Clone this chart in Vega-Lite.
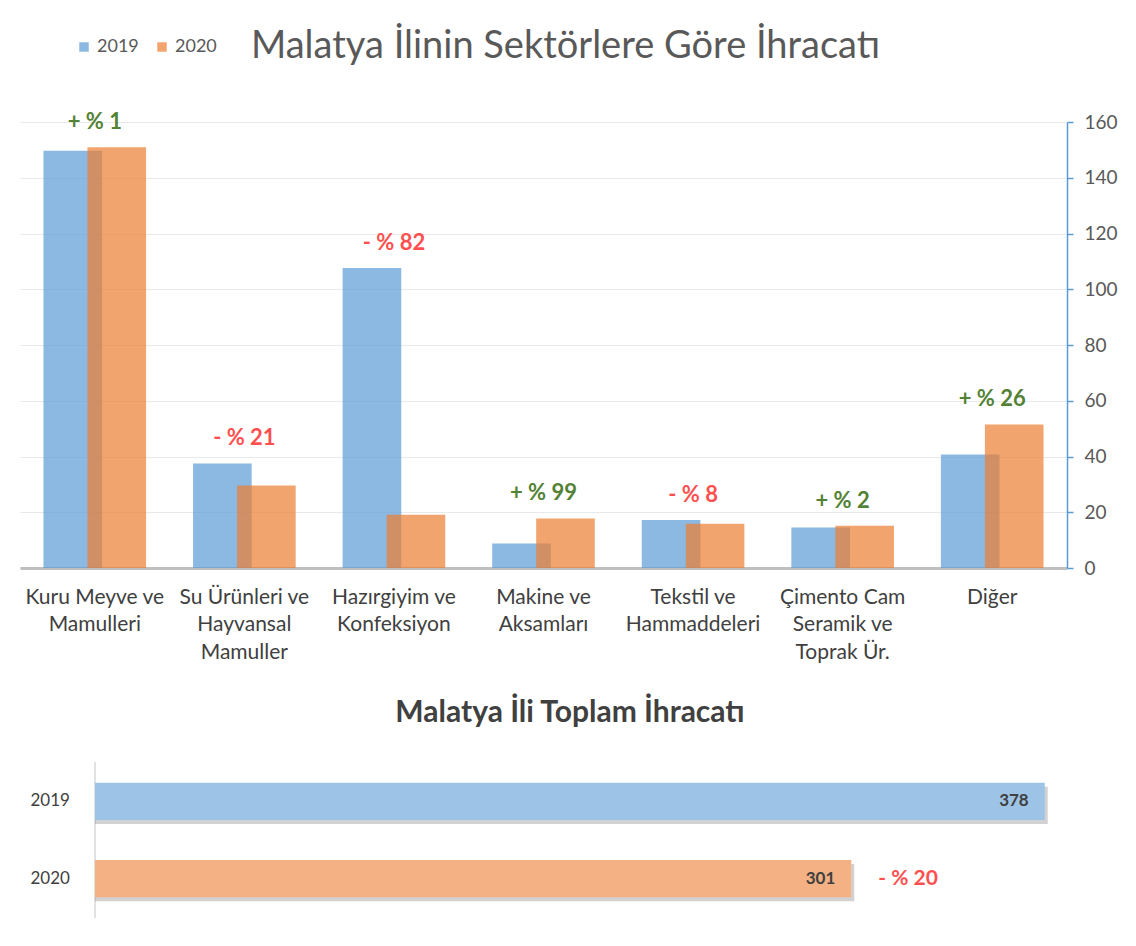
{
  "$schema": "https://vega.github.io/schema/vega-lite/v6.json",
  "background": "white",
  "padding": {"left": 20, "top": 38, "right": 0, "bottom": 0},
  "config": {
    "font": "Lato",
    "view": {"stroke": null}
  },
  "spacing": 35,
  "resolve": {"scale": {"color": "independent"}},
  "vconcat": [
    {
      "width": 1047,
      "height": 446,
      "data": {
        "values": [
          {"sector": "Kuru Meyve ve Mamulleri", "year": "2019", "value": 149.7, "change": "+ % 1"},
          {"sector": "Su Ürünleri ve Hayvansal Mamuller", "year": "2019", "value": 37.5, "change": "- % 21"},
          {"sector": "Hazırgiyim ve Konfeksiyon", "year": "2019", "value": 107.6, "change": "- % 82"},
          {"sector": "Makine ve Aksamları", "year": "2019", "value": 8.8, "change": "+ % 99"},
          {"sector": "Tekstil ve Hammaddeleri", "year": "2019", "value": 17.2, "change": "- % 8"},
          {"sector": "Çimento Cam Seramik ve Toprak Ür.", "year": "2019", "value": 14.5, "change": "+ % 2"},
          {"sector": "Diğer", "year": "2019", "value": 40.7, "change": "+ % 26"},
          {"sector": "Kuru Meyve ve Mamulleri", "year": "2020", "value": 150.9, "change": "+ % 1"},
          {"sector": "Su Ürünleri ve Hayvansal Mamuller", "year": "2020", "value": 29.6, "change": "- % 21"},
          {"sector": "Hazırgiyim ve Konfeksiyon", "year": "2020", "value": 19.1, "change": "- % 82"},
          {"sector": "Makine ve Aksamları", "year": "2020", "value": 17.8, "change": "+ % 99"},
          {"sector": "Tekstil ve Hammaddeleri", "year": "2020", "value": 15.9, "change": "- % 8"},
          {"sector": "Çimento Cam Seramik ve Toprak Ür.", "year": "2020", "value": 15.2, "change": "+ % 2"},
          {"sector": "Diğer", "year": "2020", "value": 51.5, "change": "+ % 26"}
        ]
      },
      "encoding": {
        "x": {
          "field": "sector",
          "type": "nominal",
          "sort": null,
          "scale": {"paddingInner": 0, "paddingOuter": 0},
          "axis": {
            "title": null,
            "labelAngle": 0,
            "ticks": false,
            "domainColor": "#BFBFBF",
            "domainWidth": 3,
            "labelPadding": 18,
            "labelFontSize": 21,
            "labelColor": "#404040",
            "labelLineHeight": 27.5,
            "labelLimit": 300,
            "labelBaseline": "top",
            "labelExpr": "datum.value == 'Kuru Meyve ve Mamulleri' ? ['Kuru Meyve ve', 'Mamulleri'] : datum.value == 'Su Ürünleri ve Hayvansal Mamuller' ? ['Su Ürünleri ve', 'Hayvansal', 'Mamuller'] : datum.value == 'Hazırgiyim ve Konfeksiyon' ? ['Hazırgiyim ve', 'Konfeksiyon'] : datum.value == 'Makine ve Aksamları' ? ['Makine ve', 'Aksamları'] : datum.value == 'Tekstil ve Hammaddeleri' ? ['Tekstil ve', 'Hammaddeleri'] : datum.value == 'Çimento Cam Seramik ve Toprak Ür.' ? ['Çimento Cam', 'Seramik ve', 'Toprak Ür.'] : datum.label"
          }
        }
      },
      "layer": [
        {
          "transform": [{"filter": "datum.year == '2019'"}],
          "mark": {"type": "bar", "width": {"band": 0.392}, "xOffset": -22, "opacity": 0.7},
          "encoding": {
            "y": {
              "field": "value",
              "type": "quantitative",
              "scale": {"domain": [0, 160], "nice": false},
              "axis": {
                "orient": "right",
                "title": null,
                "values": [0, 20, 40, 60, 80, 100, 120, 140, 160],
                "domainColor": "#5B9BD5",
                "domainWidth": 1.5,
                "tickColor": "#5B9BD5",
                "tickWidth": 1.5,
                "tickSize": 6,
                "labelPadding": 11,
                "labelFontSize": 19,
                "labelColor": "#595959",
                "gridColor": "#E9E9E9",
                "grid": true
              }
            },
            "color": {
              "field": "year",
              "type": "nominal",
              "scale": {"domain": ["2019", "2020"], "range": ["#5B9BD5", "#ED7D31"]},
              "legend": {
                "orient": "none",
                "legendX": 55,
                "legendY": -84,
                "direction": "horizontal",
                "title": "Malatya İlinin Sektörlere Göre İhracatı",
                "titleOrient": "right",
                "titleFontSize": 38,
                "titleFontWeight": "normal",
                "titleColor": "#595959",
                "titleLimit": 900,
                "titlePadding": 34,
                "labelFontSize": 18,
                "labelColor": "#595959",
                "symbolType": "square",
                "symbolSize": 90,
                "symbolOpacity": 0.7,
                "symbolStrokeWidth": 0,
                "columnPadding": 14,
                "labelOffset": 4
              }
            }
          }
        },
        {
          "transform": [{"filter": "datum.year == '2020'"}],
          "mark": {"type": "bar", "width": {"band": 0.392}, "xOffset": 22, "opacity": 0.7},
          "encoding": {
            "y": {"field": "value", "type": "quantitative"},
            "color": {"field": "year", "type": "nominal"}
          }
        },
        {
          "transform": [
            {"aggregate": [{"op": "max", "field": "value", "as": "top"}], "groupby": ["sector", "change"]}
          ],
          "mark": {"type": "text", "fontSize": 22, "fontWeight": "bold", "dy": -25, "baseline": "middle"},
          "encoding": {
            "y": {"field": "top", "type": "quantitative"},
            "text": {"field": "change"},
            "color": {
              "condition": {"test": "indexof(datum.change, '+') == 0", "value": "#548235"},
              "value": "#FF5050"
            }
          }
        }
      ]
    },
    {
      "width": 1080,
      "height": 156,
      "title": {
        "text": "Malatya İli Toplam İhracatı",
        "fontSize": 30,
        "fontWeight": "bold",
        "color": "#404040",
        "anchor": "middle",
        "dx": 10,
        "offset": 34
      },
      "data": {
        "values": [
          {"year": "2019", "total": 378, "change": ""},
          {"year": "2020", "total": 301, "change": "- % 20"}
        ]
      },
      "encoding": {
        "y": {
          "field": "year",
          "type": "nominal",
          "scale": {"paddingInner": 0.52, "paddingOuter": 0.27},
          "axis": {
            "title": null,
            "ticks": false,
            "domain": false,
            "labelFontSize": 17,
            "labelColor": "#404040",
            "labelAlign": "left",
            "labelPadding": -10
          }
        },
        "x": {
          "field": "total",
          "type": "quantitative",
          "scale": {"domain": [-29.85, 400], "nice": false, "zero": false},
          "axis": null
        }
      },
      "layer": [
        {
          "mark": {"type": "rule", "color": "#D9D9D9", "strokeWidth": 1},
          "encoding": {"x": {"datum": 0}, "y": null}
        },
        {
          "mark": {"type": "bar", "color": "#7F7F7F", "opacity": 0.35, "xOffset": 3, "yOffset": 4},
          "encoding": {"x2": {"datum": 0}}
        },
        {
          "mark": {"type": "bar"},
          "encoding": {
            "x2": {"datum": 0},
            "color": {
              "condition": {"test": "datum.year == '2019'", "value": "#9DC3E6"},
              "value": "#F4B183"
            }
          }
        },
        {
          "mark": {"type": "text", "align": "right", "dx": -16, "fontSize": 17, "fontWeight": "bold", "color": "#404040"},
          "encoding": {"text": {"field": "total", "type": "quantitative"}}
        },
        {
          "mark": {"type": "text", "align": "left", "dx": 27, "fontSize": 21, "fontWeight": "bold", "color": "#FF5050"},
          "encoding": {"text": {"field": "change"}}
        }
      ]
    }
  ]
}
